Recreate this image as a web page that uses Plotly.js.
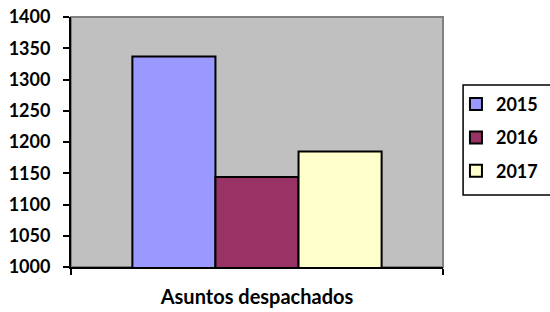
<!DOCTYPE html>
<html>
<head>
<meta charset="utf-8">
<script src="https://cdn.plot.ly/plotly-3.0.1.min.js"></script>
<style>html,body{margin:0;padding:0;background:#fff;}#chart{width:550px;height:312px;}</style>
</head>
<body>
<div id="chart"></div>
<script>
var categories = ["Asuntos despachados"];
var seriesNames = ["2015", "2016", "2017"];
var values2015 = [1337];
var values2016 = [1144];
var values2017 = [1185];
var yTickValues = [1000, 1050, 1100, 1150, 1200, 1250, 1300, 1350, 1400];

var colors = ["#9999FF", "#993366", "#FFFFCC"];
var seriesValues = [values2015, values2016, values2017];

var traces = seriesNames.map(function (name, i) {
  return {
    type: "bar",
    name: name,
    x: categories,
    y: seriesValues[i],
    legendgroup: name,
    marker: {color: colors[i], line: {color: "#000000", width: 2}},
    hoverinfo: "y"
  };
});

var fontFamily = "Lato, 'Open Sans', sans-serif";

var layout = {
  width: 550,
  height: 312,
  margin: {l: 71, r: 107, t: 17, b: 45, autoexpand: false},
  paper_bgcolor: "#FFFFFF",
  plot_bgcolor: "#C0C0C0",
  barmode: "group",
  bargap: 0.33,
  bargroupgap: 0,
  showlegend: true,
  legend: {
    xref: "container", yref: "container",
    x: 0.829, xanchor: "left",
    y: 0.725, yanchor: "top",
    borderwidth: 0,
    bgcolor: "rgba(0,0,0,0)",
    font: {family: fontFamily, size: 18, color: "#000000", weight: "bold"},
    traceorder: "grouped",
    tracegroupgap: 7,
    itemwidth: 30
  },
  xaxis: {
    type: "category",
    showline: true, linecolor: "#000000", linewidth: 2,
    ticks: "outside", tickson: "boundaries", ticklen: 6, tickwidth: 2, tickcolor: "#000000",
    showgrid: false,
    tickfont: {family: fontFamily, size: 20, color: "#000000", weight: "bold"},
    ticklabelstandoff: 11,
    fixedrange: true
  },
  yaxis: {
    range: [1000, 1400],
    tickvals: yTickValues,
    ticktext: yTickValues.map(String),
    showline: true, linecolor: "#000000", linewidth: 2,
    ticks: "outside", ticklen: 6, tickwidth: 2, tickcolor: "#000000",
    showgrid: false, zeroline: false,
    tickfont: {family: fontFamily, size: 18, color: "#000000", weight: "bold"},
    ticklabelstandoff: 9,
    fixedrange: true
  },
  shapes: [
    {
      type: "rect", xref: "paper", yref: "paper", x0: 0, x1: 1, y0: 0, y1: 1,
      line: {color: "#808080", width: 2}, layer: "below"
    },
    {
      type: "rect", xref: "paper", yref: "paper", x0: 1.054, x1: 1.35, y0: 0.288, y1: 0.728,
      fillcolor: "#FFFFFF", line: {color: "#000000", width: 1.5}, layer: "above"
    }
  ]
};

Plotly.newPlot("chart", traces, layout, {displayModeBar: false, staticPlot: true});
</script>
</body>
</html>
